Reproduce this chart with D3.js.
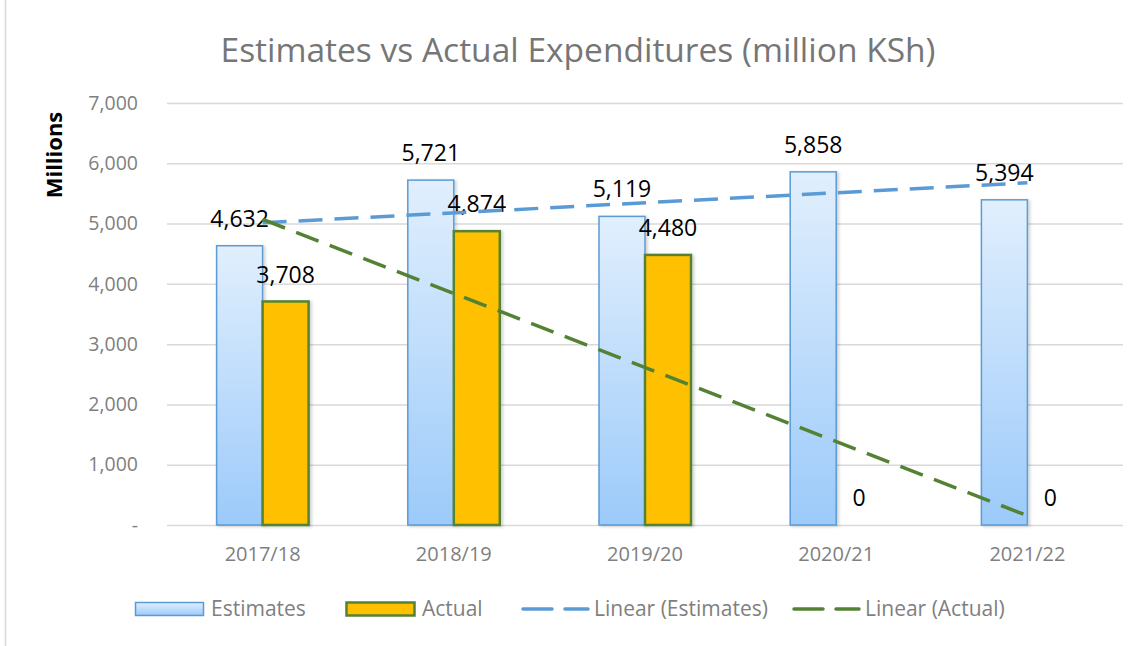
<!DOCTYPE html>
<html>
<head>
<meta charset="utf-8">
<script src="https://cdn.jsdelivr.net/npm/d3@7"></script>
<style>
  body { margin: 0; background: #fff; }
  svg { display: block; font-family: "Open Sans", "Liberation Sans", sans-serif; }
</style>
</head>
<body>
<svg id="chart"></svg>
<script>
var width = 1139;
var height = 646;

// data
var years = ["2017/18", "2018/19", "2019/20", "2020/21", "2021/22"];
var estimates = [4632, 5721, 5119, 5858, 5394];
var actual = [3708, 4874, 4480, 0, 0];
var yTicks = [0, 1000, 2000, 3000, 4000, 5000, 6000, 7000];
var seriesNames = ["Estimates", "Actual"];

var margin = {top: 103, right: 16, bottom: 121, left: 167};

var svg = d3.select("#chart")
    .attr("width", width)
    .attr("height", height);

var defs = svg.append("defs");
var grad = defs.append("linearGradient")
    .attr("id", "estGrad")
    .attr("x1", 0).attr("y1", 0).attr("x2", 0).attr("y2", 1);
grad.append("stop").attr("offset", "0%").attr("stop-color", "#e1effd");
grad.append("stop").attr("offset", "100%").attr("stop-color", "#9ccafa");

var shadow = defs.append("filter").attr("id", "shadow")
    .attr("x", "-20%").attr("y", "-5%").attr("width", "150%").attr("height", "115%");
shadow.append("feDropShadow")
    .attr("dx", 2).attr("dy", 1).attr("stdDeviation", 1.5)
    .attr("flood-color", "#000").attr("flood-opacity", 0.18);

// outer chart border (only left edge visible)
svg.append("line")
    .attr("x1", 5.5).attr("x2", 5.5)
    .attr("y1", 0).attr("y2", height)
    .style("stroke", "#d9d9d9")
    .style("stroke-width", 1.5);

var x = d3.scaleBand()
    .domain(years)
    .range([margin.left, width - margin.right]);

var y = d3.scaleLinear()
    .domain([0, 7000])
    .range([height - margin.bottom, margin.top]);

var barW = 46;
var x1 = d3.scaleBand()
    .domain(seriesNames)
    .range([x.bandwidth() / 2 - barW, x.bandwidth() / 2 + barW]);

var fmt = d3.format(",");

// gridlines
svg.append("g")
    .selectAll("line")
    .data(yTicks)
    .enter().append("line")
    .attr("x1", margin.left)
    .attr("x2", width - margin.right)
    .attr("y1", function(d) { return y(d) + 0.5; })
    .attr("y2", function(d) { return y(d) + 0.5; })
    .style("stroke", "#d9d9d9")
    .style("stroke-width", 1.5);

// y axis labels
var yAxis = d3.axisLeft(y)
    .tickValues(yTicks)
    .tickSize(0)
    .tickPadding(29)
    .tickFormat(function(d) { return d === 0 ? "-" : fmt(d); });

svg.append("g")
    .attr("transform", "translate(" + margin.left + ",0)")
    .call(yAxis)
    .call(function(g) { g.select(".domain").remove(); })
    .selectAll("text")
    .style("font-size", "19.5px")
    .style("font-family", "'Open Sans', sans-serif")
    .style("fill", "#7f7f7f");

// x axis labels
var xAxis = d3.axisBottom(x).tickSize(0).tickPadding(22);
svg.append("g")
    .attr("transform", "translate(0," + y(0) + ")")
    .call(xAxis)
    .call(function(g) { g.select(".domain").remove(); })
    .selectAll("text")
    .style("font-size", "20px")
    .style("font-family", "'Open Sans', sans-serif")
    .style("fill", "#7f7f7f");

// bars
var rows = years.map(function(yr, i) {
  return {year: yr, values: [
    {key: "Estimates", value: estimates[i]},
    {key: "Actual", value: actual[i]}
  ]};
});

var group = svg.append("g").selectAll(".yr")
    .data(rows)
    .enter().append("g")
    .attr("class", "yr")
    .attr("transform", function(d) { return "translate(" + x(d.year) + ",0)"; });

group.selectAll("rect")
    .data(function(d) { return d.values; })
    .enter().append("rect")
    .filter(function(d) { return d.value > 0; })
    .attr("x", function(d) { return x1(d.key); })
    .attr("width", x1.bandwidth())
    .attr("y", function(d) { return y(d.value); })
    .attr("height", function(d) { return y(0) - y(d.value); })
    .attr("filter", "url(#shadow)")
    .style("fill", function(d) { return d.key === "Estimates" ? "url(#estGrad)" : "#ffc000"; })
    .style("stroke", function(d) { return d.key === "Estimates" ? "#5b9bd5" : "#548235"; })
    .style("stroke-width", function(d) { return d.key === "Estimates" ? 1.5 : 2.5; });

// linear trendlines (least squares over category index)
function linFit(vals) {
  var n = vals.length;
  var xs = d3.range(1, n + 1);
  var mx = d3.mean(xs), my = d3.mean(vals);
  var num = d3.sum(xs, function(v, i) { return (v - mx) * (vals[i] - my); });
  var den = d3.sum(xs, function(v) { return (v - mx) * (v - mx); });
  var b = num / den, a = my - b * mx;
  return [a + b * 1, a + b * n];
}

var trends = [
  {key: "Estimates", color: "#5b9bd5", ends: linFit(estimates)},
  {key: "Actual", color: "#548235", ends: linFit(actual)}
];

var cx = function(i) { return x(years[i]) + x.bandwidth() / 2; };

svg.append("g").selectAll("line")
    .data(trends)
    .enter().append("line")
    .attr("x1", cx(0))
    .attr("x2", cx(years.length - 1))
    .attr("y1", function(d) { return y(d.ends[0]); })
    .attr("y2", function(d) { return y(d.ends[1]); })
    .style("stroke", function(d) { return d.color; })
    .style("stroke-width", 3.5)
    .style("stroke-dasharray", "24 12");

// data labels
group.selectAll("text.lbl")
    .data(function(d) { return d.values; })
    .enter().append("text")
    .attr("class", "lbl")
    .attr("x", function(d) { return x1(d.key) + x1.bandwidth() / 2; })
    .attr("y", function(d) { return y(d.value) - 27; })
    .attr("dy", "0.35em")
    .attr("text-anchor", "middle")
    .style("font-size", "23px")
    .style("fill", "#000")
    .text(function(d) { return fmt(d.value); });

// title
svg.append("text")
    .attr("x", 578)
    .attr("y", 50)
    .attr("dy", "0.35em")
    .attr("text-anchor", "middle")
    .style("font-size", "33.5px")
    .style("fill", "#767676")
    .text("Estimates vs Actual Expenditures (million KSh)");

// y axis title
svg.append("text")
    .attr("transform", "translate(54,155) rotate(-90)")
    .attr("dy", "0.35em")
    .attr("text-anchor", "middle")
    .style("font-size", "22px")
    .style("font-weight", "bold")
    .style("fill", "#000")
    .text("Millions");

// legend
var legend = [
  {label: "Estimates", type: "box", x: 135},
  {label: "Actual", type: "box", x: 346},
  {label: "Linear (Estimates)", type: "line", color: "#5b9bd5", x: 522},
  {label: "Linear (Actual)", type: "line", color: "#548235", x: 793}
];
var ly = 609;

var li = svg.append("g").selectAll("g")
    .data(legend)
    .enter().append("g")
    .attr("transform", function(d) { return "translate(" + d.x + "," + ly + ")"; });

li.filter(function(d) { return d.type === "box"; })
  .append("rect")
    .attr("x", 0.5).attr("y", -6.5)
    .attr("width", 68).attr("height", 13)
    .style("fill", function(d) { return d.label === "Estimates" ? "url(#estGrad)" : "#ffc000"; })
    .style("stroke", function(d) { return d.label === "Estimates" ? "#5b9bd5" : "#548235"; })
    .style("stroke-width", function(d) { return d.label === "Estimates" ? 1.5 : 2.5; });

li.filter(function(d) { return d.type === "line"; })
  .append("line")
    .attr("x1", 1).attr("x2", 66)
    .attr("y1", 0).attr("y2", 0)
    .style("stroke", function(d) { return d.color; })
    .style("stroke-width", 3.5)
    .style("stroke-linecap", "round")
    .style("stroke-dasharray", "29 13");

li.append("text")
    .attr("x", function(d) { return d.type === "box" ? 76 : 72; })
    .attr("y", 0)
    .attr("dy", "0.35em")
    .style("font-size", "21px")
    .style("fill", "#7f7f7f")
    .text(function(d) { return d.label; });
</script>
</body>
</html>
